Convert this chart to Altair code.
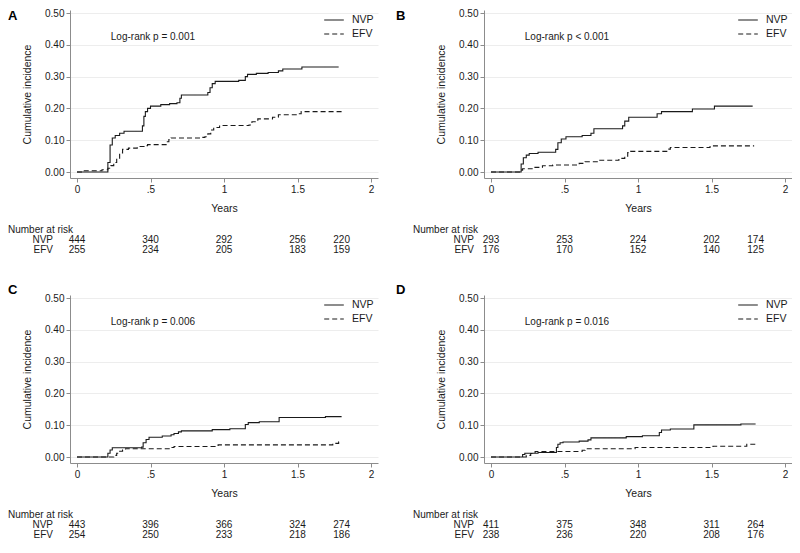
import altair as alt
import pandas as pd

FONT = "Liberation Sans"
INK = "#1a1a1a"
AXIS_GRAY = "#8c8c8c"
GRID = "#ededed"

# ---------------- data ----------------
arms = ["NVP", "EFV"]
risk_times = [0, 0.5, 1, 1.5, 1.8]
x_ticks = [0, 0.5, 1, 1.5, 2]
y_ticks = [0, 0.1, 0.2, 0.3, 0.4, 0.5]

letters = ["A", "B", "C", "D"]
pvals = ["Log-rank p = 0.001", "Log-rank p < 0.001", "Log-rank p = 0.006", "Log-rank p = 0.016"]

A_nvp_t = [0, 0.21, 0.225, 0.24, 0.26, 0.29, 0.32, 0.445, 0.455, 0.465, 0.48, 0.50, 0.57, 0.63, 0.68, 0.70, 0.71, 0.89, 0.905, 0.92, 0.94, 1.10, 1.145, 1.16, 1.22, 1.30, 1.37, 1.40, 1.53, 1.78]
A_nvp_v = [0, 0.03, 0.085, 0.107, 0.115, 0.122, 0.128, 0.145, 0.175, 0.19, 0.2, 0.207, 0.212, 0.215, 0.218, 0.232, 0.242, 0.25, 0.265, 0.278, 0.285, 0.288, 0.3, 0.307, 0.31, 0.313, 0.318, 0.324, 0.330, 0.330]
A_efv_t = [0, 0.03, 0.17, 0.21, 0.23, 0.25, 0.27, 0.29, 0.31, 0.35, 0.41, 0.46, 0.48, 0.61, 0.625, 0.64, 0.84, 0.87, 0.89, 0.91, 0.93, 0.97, 1.17, 1.19, 1.23, 1.33, 1.37, 1.50, 1.525, 1.80]
A_efv_v = [0, 0.004, 0.007, 0.012, 0.02, 0.03, 0.04, 0.06, 0.071, 0.075, 0.08, 0.083, 0.086, 0.095, 0.102, 0.107, 0.109, 0.111, 0.12, 0.132, 0.14, 0.146, 0.148, 0.158, 0.167, 0.172, 0.18, 0.183, 0.19, 0.19]

B_nvp_t = [0, 0.205, 0.22, 0.24, 0.26, 0.32, 0.44, 0.455, 0.478, 0.51, 0.62, 0.68, 0.70, 0.895, 0.91, 0.937, 1.13, 1.16, 1.37, 1.52, 1.78]
B_nvp_v = [0, 0.025, 0.045, 0.053, 0.058, 0.062, 0.071, 0.092, 0.104, 0.111, 0.115, 0.122, 0.136, 0.145, 0.16, 0.172, 0.183, 0.19, 0.198, 0.207, 0.207]
B_efv_t = [0, 0.208, 0.215, 0.28, 0.35, 0.42, 0.60, 0.64, 0.74, 0.87, 0.91, 0.93, 0.95, 1.21, 1.22, 1.49, 1.79]
B_efv_v = [0, 0.006, 0.01, 0.0145, 0.0195, 0.022, 0.027, 0.032, 0.037, 0.043, 0.05, 0.061, 0.065, 0.072, 0.077, 0.082, 0.082]

C_nvp_t = [0, 0.21, 0.225, 0.24, 0.44, 0.45, 0.47, 0.49, 0.58, 0.64, 0.66, 0.69, 0.71, 0.92, 1.04, 1.145, 1.165, 1.24, 1.375, 1.69, 1.80]
C_nvp_v = [0, 0.012, 0.022, 0.029, 0.031, 0.045, 0.055, 0.062, 0.066, 0.07, 0.074, 0.079, 0.082, 0.086, 0.089, 0.102, 0.108, 0.111, 0.124, 0.127, 0.127]
C_efv_t = [0, 0.25, 0.27, 0.29, 0.31, 0.33, 0.64, 0.66, 0.94, 0.96, 1.74, 1.78, 1.80]
C_efv_v = [0, 0.005, 0.012, 0.018, 0.022, 0.026, 0.03, 0.033, 0.036, 0.038, 0.043, 0.048, 0.048]

D_nvp_t = [0, 0.215, 0.23, 0.32, 0.445, 0.455, 0.47, 0.49, 0.60, 0.66, 0.68, 0.92, 1.03, 1.145, 1.16, 1.22, 1.38, 1.70, 1.80]
D_nvp_v = [0, 0.008, 0.012, 0.014, 0.03, 0.04, 0.045, 0.047, 0.05, 0.054, 0.06, 0.064, 0.067, 0.077, 0.085, 0.088, 0.101, 0.104, 0.104]
D_efv_t = [0, 0.24, 0.27, 0.30, 0.62, 0.64, 0.98, 1.51, 1.74, 1.80]
D_efv_v = [0, 0.005, 0.011, 0.0175, 0.021, 0.026, 0.03, 0.034, 0.04, 0.04]

A_nvp_risk = [444, 340, 292, 256, 220]
A_efv_risk = [255, 234, 205, 183, 159]
B_nvp_risk = [293, 253, 224, 202, 174]
B_efv_risk = [176, 170, 152, 140, 125]
C_nvp_risk = [443, 396, 366, 324, 274]
C_efv_risk = [254, 250, 233, 218, 186]
D_nvp_risk = [411, 375, 348, 311, 264]
D_efv_risk = [238, 236, 220, 208, 176]

# ---------------- layout ----------------
W, H = 308, 168
XPAD = 7
X_PER = (W - 2 * XPAD) / 2.0
Y_TOP, Y_BOT = 3, 6
Y_PER = (H - Y_TOP - Y_BOT) / 0.5
x_domain = [-XPAD / X_PER, 2 + XPAD / X_PER]
y_domain = [-Y_BOT / Y_PER, 0.5 + Y_TOP / Y_PER]


def panel(letter, pval, nvp_t, nvp_v, efv_t, efv_v, nvp_risk, efv_risk, right, bottom):
    curve_df = pd.DataFrame({
        "t": list(nvp_t) + list(efv_t),
        "v": list(nvp_v) + list(efv_v),
        "arm": ["NVP"] * len(nvp_t) + ["EFV"] * len(efv_t),
    })
    xs = alt.Scale(domain=x_domain, nice=False, zero=False)
    ys = alt.Scale(domain=y_domain, nice=False, zero=False)
    rs = alt.Scale(domain=[0, 2], range=[H + 52, H + 72], nice=False, zero=False)

    x_axis = alt.Axis(values=x_ticks, format="~g",
                      labelExpr="datum.value == 0.5 ? '.5' : datum.label",
                      title="Years", titlePadding=9, grid=False,
                      tickSize=4, labelPadding=2, labelFontSize=10, titleFontSize=10.5,
                      titleFontWeight="normal", labelColor=INK, titleColor=INK,
                      domainColor=AXIS_GRAY, tickColor=AXIS_GRAY, labelFont=FONT, titleFont=FONT)
    y_axis = alt.Axis(values=y_ticks, format=".2f", title="Cumulative incidence",
                      titlePadding=12, grid=True, gridColor=GRID,
                      tickSize=4, labelPadding=2, labelFontSize=10, titleFontSize=10.5,
                      titleFontWeight="normal", labelColor=INK, titleColor=INK,
                      domainColor=AXIS_GRAY, tickColor=AXIS_GRAY, labelFont=FONT, titleFont=FONT)

    lines = alt.Chart(curve_df).mark_line(
        interpolate="step-after", color=INK, strokeWidth=1.1
    ).encode(
        x=alt.X("t:Q", scale=xs, axis=x_axis),
        y=alt.Y("v:Q", scale=ys, axis=y_axis),
        strokeDash=alt.StrokeDash(
            "arm:N",
            scale=alt.Scale(domain=arms, range=[[1, 0], [5, 3]]),
            legend=alt.Legend(title=None, orient="none", direction="vertical",
                              legendX=W - 52, legendY=2, symbolType="M-1.4,0H1.4",
                              symbolSize=196, symbolStrokeWidth=1.1,
                              symbolStrokeColor=INK, labelFont=FONT, labelFontSize=10.5,
                              labelColor=INK, labelOffset=10, rowPadding=0, padding=0),
        ),
    )

    pv = alt.Chart(pd.DataFrame({"label": [pval]})).mark_text(
        align="left", baseline="middle", font=FONT, fontSize=10, color=INK
    ).encode(
        x=alt.X(datum=0.23, type="quantitative", scale=xs),
        y=alt.Y(datum=0.425, type="quantitative", scale=ys, axis=None),
        text="label:N",
    )

    risk_df = pd.DataFrame({
        "t": risk_times * 2,
        "row": [1] * len(risk_times) + [2] * len(risk_times),
        "n": list(nvp_risk) + list(efv_risk),
    })
    nums = alt.Chart(risk_df).mark_text(
        align="center", baseline="middle", font=FONT, fontSize=10, color=INK
    ).encode(
        x=alt.X("t:Q", scale=xs),
        y=alt.Y("row:Q", scale=rs, axis=None),
        text="n:Q",
    )

    labs = alt.Chart(pd.DataFrame({"row": [1, 2], "label": arms})).mark_text(
        align="right", baseline="middle", font=FONT, fontSize=10, color=INK
    ).encode(
        x=alt.value(-10 if right else -17),
        y=alt.Y("row:Q", scale=rs, axis=None),
        text="label:N",
    )

    hdr = alt.Chart(pd.DataFrame({"row": [0], "label": ["Number at risk"]})).mark_text(
        align="left", baseline="middle", font=FONT, fontSize=10, color=INK
    ).encode(
        x=alt.value(-71 if right else -62),
        y=alt.Y("row:Q", scale=rs, axis=None),
        text="label:N",
    )

    let = alt.Chart(pd.DataFrame({"label": [letter]})).mark_text(
        align="left", baseline="middle", font=FONT, fontSize=13, fontWeight="bold", color="#000000"
    ).encode(
        x=alt.value(-88 if right else -62),
        y=alt.value(-5 if bottom else 6),
        text="label:N",
    )

    return alt.layer(lines, pv, nums, labs, hdr, let).resolve_scale(
        y="independent"
    ).properties(width=W, height=H)


pA = panel(letters[0], pvals[0], A_nvp_t, A_nvp_v, A_efv_t, A_efv_v, A_nvp_risk, A_efv_risk, False, False)
pB = panel(letters[1], pvals[1], B_nvp_t, B_nvp_v, B_efv_t, B_efv_v, B_nvp_risk, B_efv_risk, True, False)
pC = panel(letters[2], pvals[2], C_nvp_t, C_nvp_v, C_efv_t, C_efv_v, C_nvp_risk, C_efv_risk, False, True)
pD = panel(letters[3], pvals[3], D_nvp_t, D_nvp_v, D_efv_t, D_efv_v, D_nvp_risk, D_efv_risk, True, True)

row1 = alt.hconcat(pA, pB, spacing=18).resolve_scale(strokeDash="independent").resolve_legend(strokeDash="independent")
row2 = alt.hconcat(pC, pD, spacing=18).resolve_scale(strokeDash="independent").resolve_legend(strokeDash="independent")

chart = alt.vconcat(row1, row2, spacing=29).resolve_scale(
    strokeDash="independent"
).resolve_legend(
    strokeDash="independent"
).properties(
    padding=0, background="white"
).configure_view(stroke=None)

chart.save("out.html", embed_options={"renderer": "svg", "actions": False})
